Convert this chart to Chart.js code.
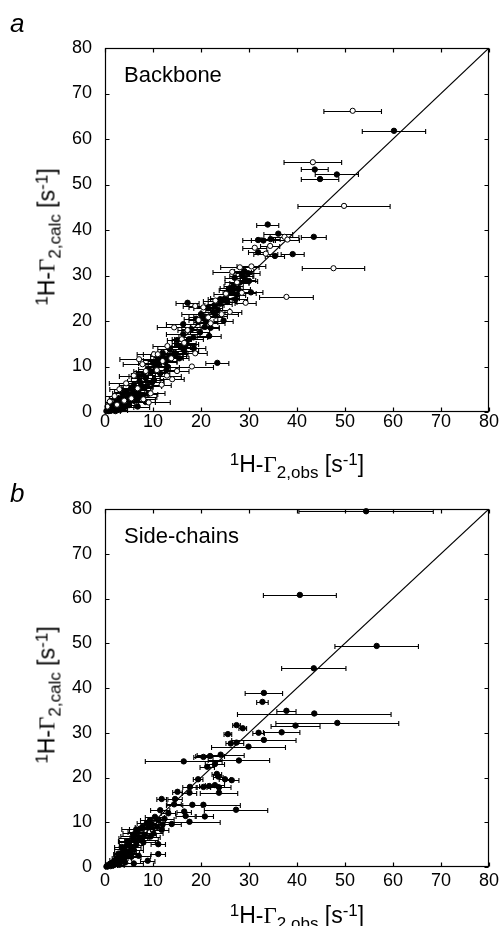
<!DOCTYPE html>
<html><head><meta charset="utf-8">
<script src="https://cdn.jsdelivr.net/npm/chart.js@4.4.1/dist/chart.umd.min.js"></script>
<style>
html,body{margin:0;padding:0;background:#fff;}
#page{position:relative;width:502px;height:926px;overflow:hidden;font-family:"Liberation Sans",Arial,Helvetica,sans-serif;color:#000;}
.box{position:absolute;left:0;width:502px;height:463px;}
.lbl{position:absolute;white-space:nowrap;line-height:1;}
.t{font-size:23px;}
.t sup,.t sub{font-size:17px;vertical-align:baseline;position:relative;line-height:1;}
.t sup{top:-0.43em;}
.t sub{top:0.33em;}
.g{font-family:"Liberation Serif","Times New Roman",serif;}
.xt{width:384px;left:105px;text-align:center;}
.yt{transform:translate(-50%,-50%) rotate(-90deg);}
</style></head>
<body><div id="page">
<div class="box" style="top:0"><canvas id="c1"></canvas></div>
<div class="box" style="top:463px"><canvas id="c2"></canvas></div>
<div class="lbl" style="left:10px;top:10px;font-size:26px;font-style:italic">a</div>
<div class="lbl" style="left:10px;top:480px;font-size:26px;font-style:italic">b</div>
<div class="lbl" style="left:124px;top:64px;font-size:22px">Backbone</div>
<div class="lbl" style="left:124px;top:525px;font-size:22px">Side-chains</div>
<div class="lbl t xt" style="top:453px"><sup>1</sup>H-<span class="g">Γ</span><sub>2,obs</sub> [s<sup>-1</sup>]</div>
<div class="lbl t xt" style="top:904px"><sup>1</sup>H-<span class="g">Γ</span><sub>2,obs</sub> [s<sup>-1</sup>]</div>
<div class="lbl t yt" style="left:47px;top:237px"><sup>1</sup>H-<span class="g">Γ</span><sub>2,calc</sub> [s<sup>-1</sup>]</div>
<div class="lbl t yt" style="left:47px;top:695px"><sup>1</sup>H-<span class="g">Γ</span><sub>2,calc</sub> [s<sup>-1</sup>]</div>
</div>
<script>
// ---- tick values (both axes, both panels)
const tickValues = [0,10,20,30,40,50,60,70,80];

// ---- panel a: backbone, filled circles
const bbFilledX = [60.2,43.7,48.3,44.8,33.9,36.1,43.5,31.9,33.0,34.5,
 31.9,35.4,39.1,28.5,29.2,28.0,30.0,29.0,30.4,26.6,
 25.0,27.5,17.2,21.5,22.5,20.0,24.7,23.0,16.3,20.8,
 21.7,18.4,16.3,22.0,17.0,15.8,18.5,16.5,23.4,14.0,
 12.5,11.0,15.5,13.0,10.5,9.5,11.5,8.5,10.2,7.2,
 6.0,8.0,7.0,5.5,4.5,9.0,6.5,5.0,3.8,4.2,
 3.0,6.0,8.5,2.5,3.5,5.0,2.0,1.5,2.8,4.0,
 1.0,0.5,1.8,3.2,0.3,0.8,6.8,2.2,12.0,13.5,
 26.0,27.0,24.0,
 1.2,2.4,3.6,4.8,5.8,7.5,2.0,3.0,4.4,5.2,6.2,7.8,
 19.0,20.5,22.8,24.0,25.5,26.8,27.8,28.8,29.8,18.0,
 17.5,19.8,21.0,15.0,14.5,13.2,12.0,11.0,10.0,9.0,
 8.0,7.0,9.8,8.8,12.8,14.8,16.8,23.5,25.8,27.2];
const bbFilledY = [61.8,53.3,52.2,51.2,41.2,39.2,38.5,37.8,37.7,38.0,
 35.1,34.3,34.7,30.0,29.0,28.4,28.8,31.0,26.3,26.3,
 25.0,25.8,24.0,22.8,22.0,21.5,20.1,21.2,19.3,18.7,
 16.7,16.4,17.1,18.5,15.0,14.2,14.0,13.5,10.8,12.2,
 11.0,11.5,11.8,10.0,9.8,8.8,8.5,7.5,7.0,6.8,
 6.0,5.5,4.8,5.2,4.5,4.0,3.8,3.5,3.6,2.8,
 3.0,2.5,2.2,2.2,1.8,1.5,1.5,1.0,1.0,1.0,
 0.6,0.4,0.4,0.5,0.2,0.2,1.2,0.2,13.0,13.8,
 27.2,29.5,23.8,
 1.8,2.8,4.2,3.2,4.4,5.8,0.8,2.0,1.6,2.6,5.0,3.4,
 20.5,20.8,23.5,24.8,24.2,27.8,27.0,29.8,30.5,18.2,
 16.0,17.5,19.8,15.8,13.0,12.0,12.4,10.2,10.8,9.5,
 8.2,8.0,6.5,5.8,9.2,12.8,14.8,22.5,26.8,24.8];
const bbFilledErr = [6.6,2.8,4.5,3.9,2.3,3.0,2.6,3.2,2.5,2.0,
 2.0,2.0,2.4,2.5,2.2,2.0,1.8,2.0,2.5,2.0,
 3.0,1.8,2.4,3.0,2.5,4.0,2.0,2.5,3.5,3.0,
 2.5,3.0,3.5,1.8,2.5,2.0,2.5,3.0,2.4,3.0,
 2.5,3.0,2.0,2.5,2.0,3.0,2.0,3.0,2.0,2.5,
 3.0,2.0,2.5,2.0,2.5,2.0,2.0,3.0,2.0,2.5,
 2.0,2.5,2.0,1.5,2.0,2.0,1.5,1.2,1.5,2.0,
 1.0,0.8,1.0,1.5,0.5,0.6,2.5,1.0,2.0,2.5,
 2.0,2.0,2.5,
 1.0,1.5,2.0,2.0,2.5,2.5,1.0,1.5,1.8,2.0,2.5,3.0,
 2.5,3.0,2.0,2.5,2.0,2.0,2.5,2.0,2.5,2.0,
 3.0,2.0,2.5,2.0,2.5,3.0,2.5,2.0,3.0,2.0,
 2.5,2.0,2.5,3.0,2.0,2.5,2.0,2.5,2.0,2.5];

// ---- panel a: backbone, open circles
const bbOpenX = [51.6,43.3,49.8,37.4,38.0,31.2,34.4,47.6,28.1,26.5,
 37.8,28.5,29.3,18.8,24.3,14.4,18.8,7.1,10.2,11.0,
 7.8,18.1,12.9,14.0,4.4,9.5,9.1,1.0,0.5,22.0,
 20.5,26.0,15.0,13.0,6.0,3.0,11.8,5.5,2.0,8.0,
 16.0,33.5,
 12.0,16.5,19.5,23.0,27.5,30.5,8.5,6.8,10.8,4.0,2.5,21.5,25.2,17.2,13.8];
const bbOpenY = [66.2,54.9,45.3,38.5,37.9,36.1,36.5,31.6,31.8,30.8,
 25.3,26.2,24.0,23.3,21.5,18.6,12.9,11.6,12.7,12.7,
 10.5,10.0,8.0,7.2,6.3,4.1,2.1,2.3,1.2,19.5,
 23.0,22.0,9.0,14.5,8.0,5.0,6.0,3.0,3.5,2.8,
 16.0,34.8,
 11.2,15.2,20.2,24.5,28.5,32.0,9.0,5.2,9.2,2.5,1.6,20.8,26.0,18.0,11.8];
const bbOpenErr = [6.0,6.0,9.6,3.0,2.5,2.5,2.0,6.5,4.0,4.0,
 5.6,3.0,2.2,2.5,3.5,3.5,2.5,4.0,3.5,3.0,
 4.0,4.5,3.0,2.5,3.5,3.0,4.5,1.5,1.0,3.0,
 3.0,2.5,2.5,3.0,3.0,2.0,2.0,2.5,2.0,2.5,
 2.0,2.5,
 3.0,2.5,2.0,2.5,2.5,3.0,2.5,3.0,2.0,2.0,1.5,3.0,2.5,2.0,2.5];

// ---- panel b: side-chains, filled circles
const scX = [54.4,40.6,56.6,43.5,33.1,32.8,37.8,43.6,48.4,39.7,
 36.8,32.0,33.1,29.9,27.4,28.7,25.6,26.2,27.4,24.1,
 21.9,20.5,27.9,16.4,22.9,21.3,23.3,23.6,25.0,26.4,
 19.4,21.7,20.5,22.9,23.75,23.75,17.7,17.6,15.1,11.8,
 14.6,14.4,18.2,20.5,27.3,16.5,20.8,16.8,17.6,11.5,
 10.4,11.1,8.7,9.4,7.6,6.5,6.25,11.1,11.1,8.9,
 13.9,11.8,10.1,7.6,5.9,
 5.0,4.5,5.5,6.5,4.0,5.0,6.0,3.5,4.5,3.0,
 5.5,2.5,4.0,7.0,2.0,3.2,1.5,2.5,4.2,1.0,
 0.5,1.8,3.0,0.3,6.0,1.2,
 3.5,4.8,5.8,6.8,7.8,8.2,9.0,9.8,6.2,7.2,
 4.2,5.2,3.8,2.8,8.0,9.5,10.8,12.4,13.2,12.0];
const scY = [79.5,60.8,49.4,44.4,38.9,36.9,34.9,34.3,32.2,31.6,
 30.1,30.0,28.4,26.9,31.7,31.0,29.7,27.6,27.8,25.1,
 24.8,24.6,23.8,23.6,23.0,22.4,20.8,20.2,19.6,19.4,
 19.6,18.1,17.9,18.3,16.6,17.8,17.9,16.6,16.8,15.2,
 15.2,14.0,13.9,13.9,12.8,12.4,11.3,11.4,10.1,12.7,
 11.2,10.5,9.8,10.5,8.6,8.4,7.5,5.1,2.9,1.4,
 9.6,8.3,7.5,6.0,6.4,
 5.5,4.8,4.5,5.0,4.0,3.5,3.8,3.2,2.8,2.5,
 2.3,2.0,2.0,2.5,1.5,1.4,1.0,0.9,1.0,0.6,
 0.3,0.4,0.5,0.1,0.8,0.2,
 4.5,5.8,7.0,7.8,9.0,7.2,8.8,9.5,6.0,6.5,
 3.0,3.2,2.0,3.0,5.5,6.8,9.0,10.8,12.0,9.5];
const scErr = [14.0,7.6,8.7,6.7,3.9,1.2,2.0,16.0,12.8,5.1,
 3.8,1.2,6.7,7.7,0.8,0.8,0.8,1.0,1.5,4.9,
 3.0,2.0,6.4,8.0,2.0,1.5,1.0,1.0,1.2,1.5,
 1.0,2.0,1.5,2.0,3.9,2.5,1.5,1.5,1.0,1.0,
 1.5,1.5,2.0,7.7,6.6,1.5,1.8,2.0,6.4,2.0,
 2.0,1.5,2.0,2.0,2.5,3.0,2.5,1.5,1.5,1.5,
 2.0,1.5,2.0,3.5,3.0,
 2.0,1.5,2.0,1.5,2.0,1.5,2.0,1.5,2.0,1.0,
 2.0,1.0,1.5,2.5,1.0,1.2,0.8,1.0,1.5,0.6,
 0.4,0.8,1.0,0.3,2.0,0.5,
 1.5,2.0,2.5,2.0,1.5,2.5,2.0,1.5,2.0,2.0,
 1.5,2.0,1.0,1.0,2.5,2.0,1.5,2.0,1.5,2.0];

// ---- identity line end points
const diagX = [0, 80];
const diagY = [0, 80];

const FONT = '"Liberation Sans", Arial, Helvetica, sans-serif';

function pts(xs, ys){ return xs.map((x,i)=>({x:x, y:ys[i]})); }

const framePlugin = {
  id:'frameErr',
  beforeDatasetsDraw(chart){
    const ctx = chart.ctx, a = chart.chartArea, xs = chart.scales.x, ys = chart.scales.y;
    ctx.save();
    ctx.beginPath(); ctx.rect(a.left, a.top-4, a.right-a.left, a.bottom-a.top+8); ctx.clip();
    ctx.strokeStyle = '#000'; ctx.lineWidth = 1.1;
    chart.data.datasets.forEach(ds=>{
      if(!ds.errX) return;
      ds.data.forEach((p,i)=>{
        const e = ds.errX[i];
        const x1 = xs.getPixelForValue(p.x-e), x2 = xs.getPixelForValue(p.x+e);
        const y = Math.round(ys.getPixelForValue(p.y))+0.5;
        ctx.beginPath();
        ctx.moveTo(x1,y); ctx.lineTo(x2,y);
        ctx.moveTo(x1,y-2.5); ctx.lineTo(x1,y+2.5);
        ctx.moveTo(x2,y-2.5); ctx.lineTo(x2,y+2.5);
        ctx.stroke();
      });
    });
    ctx.restore();
  },
  afterDraw(chart){
    const ctx = chart.ctx, a = chart.chartArea, xs = chart.scales.x, ys = chart.scales.y;
    ctx.save();
    ctx.strokeStyle = '#000'; ctx.lineWidth = 1.2;
    const L = Math.round(a.left)+0.5, R = Math.round(a.right)-0.5, T = Math.round(a.top)+0.5, B = Math.round(a.bottom)-0.5;
    ctx.strokeRect(L, T, R-L, B-T);
    ctx.beginPath();
    tickValues.forEach(v=>{
      const x = Math.round(xs.getPixelForValue(v))+0.5;
      ctx.moveTo(x,B); ctx.lineTo(x,B-4);
      ctx.moveTo(x,T); ctx.lineTo(x,T+4);
      const y = Math.round(ys.getPixelForValue(v))+0.5;
      ctx.moveTo(L,y); ctx.lineTo(L+4,y);
      ctx.moveTo(R,y); ctx.lineTo(R-4,y);
    });
    ctx.stroke();
    ctx.restore();
  }
};

function makeChart(id, datasets, padTop, xHeight, xPad){
  return new Chart(document.getElementById(id), {
    type:'scatter',
    data:{datasets:datasets},
    options:{
      responsive:true, maintainAspectRatio:false, animation:false, devicePixelRatio:1,
      layout:{padding:{left:0,right:13,top:padTop,bottom:0}},
      plugins:{legend:{display:false}, tooltip:{enabled:false}},
      scales:{
        x:{type:'linear', min:0, max:80,
          afterBuildTicks(s){ s.ticks = tickValues.map(v=>({value:v})); },
          ticks:{padding:xPad, color:'#000', maxRotation:0, autoSkip:false, font:{family:FONT, size:18}},
          grid:{display:false, drawTicks:false}, border:{display:false},
          afterFit(s){ s.height = xHeight; }},
        y:{type:'linear', min:0, max:80,
          afterBuildTicks(s){ s.ticks = tickValues.map(v=>({value:v})); },
          ticks:{padding:13, color:'#000', autoSkip:false, font:{family:FONT, size:18}},
          grid:{display:false, drawTicks:false}, border:{display:false},
          afterFit(s){ s.width = 105; }}
      }
    },
    plugins:[framePlugin]
  });
}

function diagSet(){
  return {type:'line', data:pts(diagX, diagY), borderColor:'#000', borderWidth:1.2, pointRadius:0, showLine:true, fill:false, order:3};
}
function filledSet(xs, ys, es){
  return {data:pts(xs, ys), errX:es, pointRadius:2.7, borderWidth:1, backgroundColor:'#000', borderColor:'#000', order:2, clip:6};
}
function openSet(xs, ys, es){
  return {data:pts(xs, ys), errX:es, pointRadius:2.6, borderWidth:1, backgroundColor:'#fff', borderColor:'#000', order:1, clip:6};
}

makeChart('c1', [diagSet(), filledSet(bbFilledX, bbFilledY, bbFilledErr), openSet(bbOpenX, bbOpenY, bbOpenErr)], 48, 51, -1);
makeChart('c2', [diagSet(), filledSet(scX, scY, scErr)], 46, 59, 3);
</script>
</body></html>
